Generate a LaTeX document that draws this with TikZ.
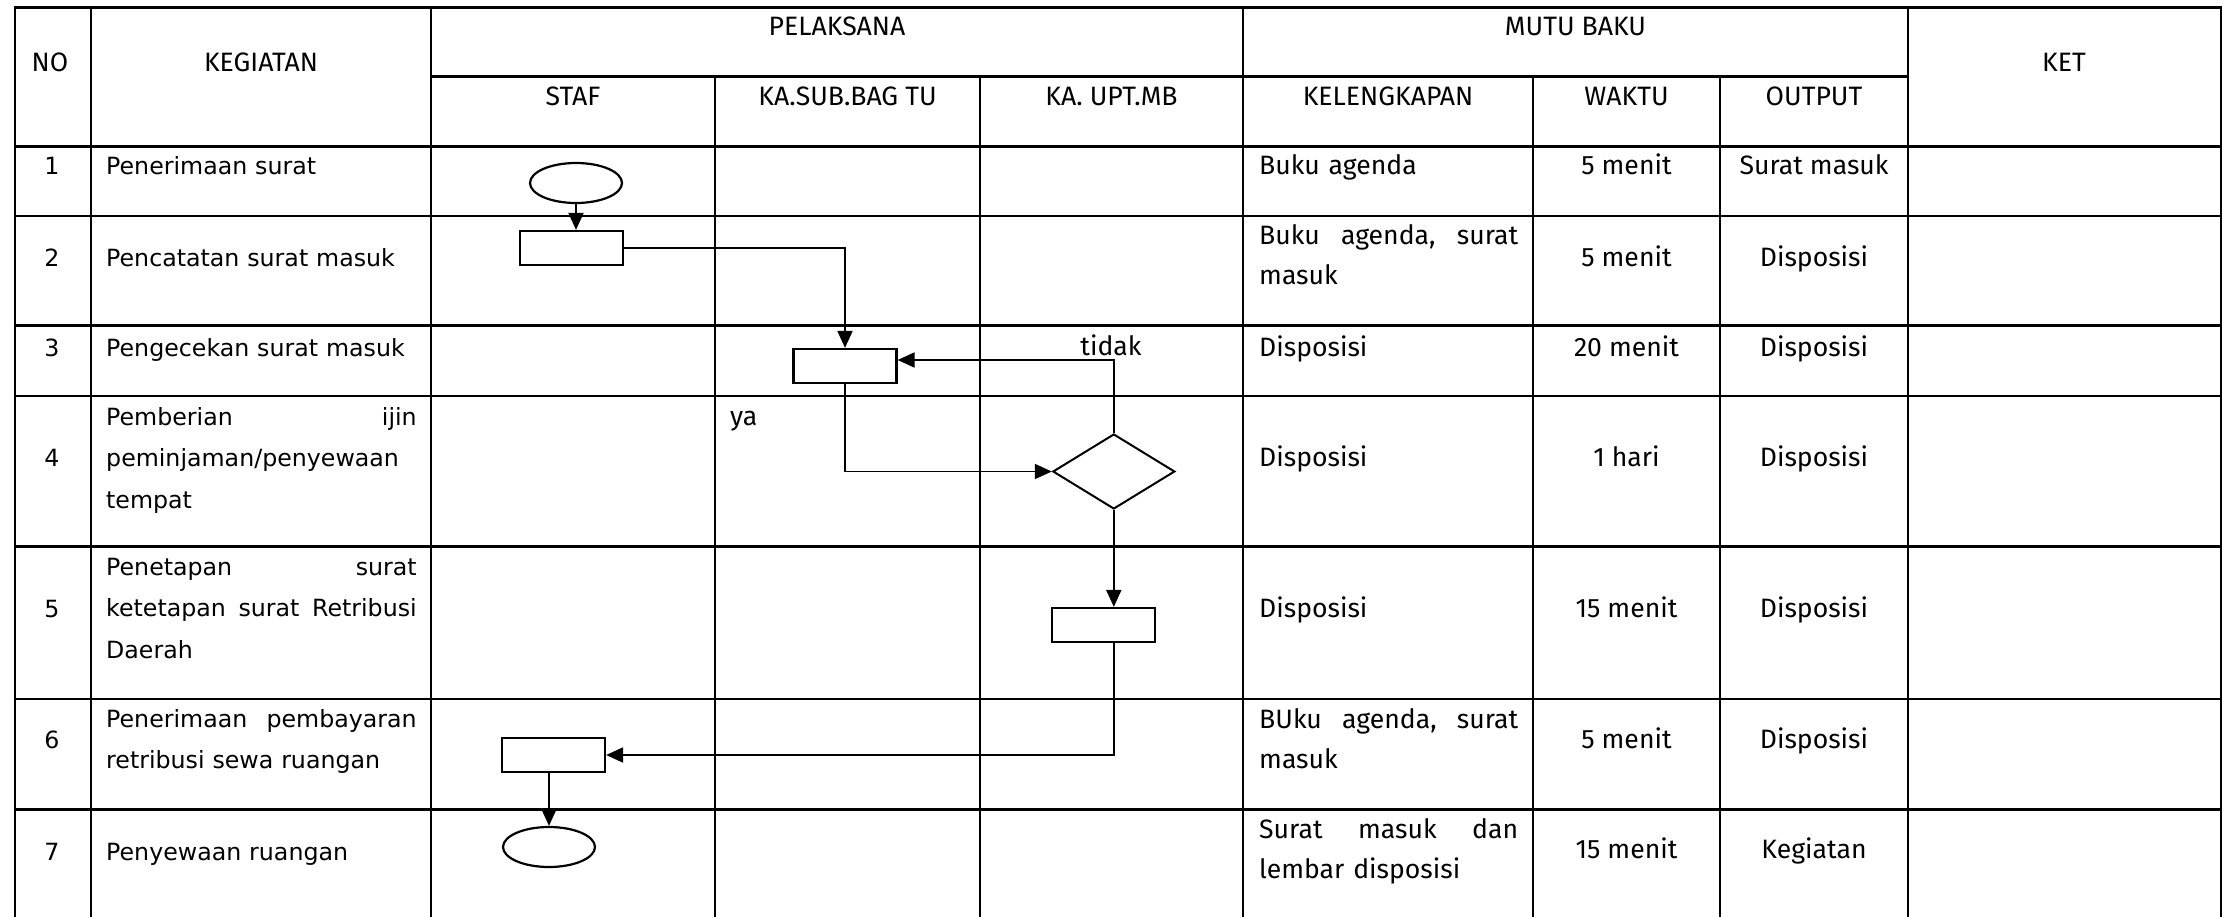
\documentclass[tikz,border=0pt]{standalone}
\usepackage{fontspec}
\setmainfont{DejaVu Sans}
\newfontfamily\lblfont{Fira Sans}
\newfontfamily\actfont{DejaVu Sans}
\usetikzlibrary{shapes.geometric,arrows.meta}

% text faces of the form
\newcommand\hdsize{\lblfont\fontsize{26.6}{40.5}\selectfont}
\newcommand\actsize{\actfont\fontsize{23.7}{41.5}\selectfont}

\begin{document}
\begin{tikzpicture}[x=1pt,y=-1pt,
  rule/.style={line width=2.7pt},
  hd/.style={font=\hdsize, inner sep=0pt, anchor=base},
  hdl/.style={font=\hdsize, inner sep=0pt, anchor=base west, text width=259pt, align=left},
  num/.style={font=\actsize, inner sep=0pt, anchor=base},
  act/.style={font=\actsize, inner sep=0pt, anchor=base west, text width=310.5pt, align=left},
  term/.style={ellipse, draw, line width=2.2pt, minimum width=92pt, minimum height=40pt, inner sep=0pt},
  proc/.style={rectangle, draw, line width=2.2pt, minimum width=103pt, minimum height=34pt, inner sep=0pt},
  decide/.style={diamond, draw, line width=2pt, minimum width=122pt, minimum height=75pt, inner sep=0pt},
  flow/.style={line width=1.9pt, -{Triangle[length=17pt,width=15pt]}}
]
% page
\fill[white] (0,0) rectangle (2223,917);
\useasboundingbox (0,0) rectangle (2223,917);

% table rules
\foreach \yy in {7.5,146.5,216,325.5,396,546.5,699,809.5}
  \draw[rule] (13.7,\yy) -- (2222.3,\yy);
\draw[rule] (431,76.5) -- (1908,76.5);
\foreach \xx in {15,91,431,1243,1908,2221}
  \draw[rule] (\xx,6.2) -- (\xx,917);
\foreach \xx in {715,980,1533,1720}
  \draw[rule] (\xx,76.5) -- (\xx,917);

% header
\node[hd] (hNo)   at (50,72)     {NO};
\node[hd] (hKeg)  at (261,72)    {KEGIATAN};
\node[hd] (hPel)  at (837,36)    {PELAKSANA};
\node[hd] (hMutu) at (1575.5,36) {MUTU BAKU};
\node[hd] (hKet)  at (2064,72)   {KET};
\node[hd] (hStaf) at (573,106)   {STAF};
\node[hd] (hSub)  at (847.5,106) {KA.SUB.BAG TU};
\node[hd] (hUpt)  at (1111.5,106){KA. UPT.MB};
\node[hd] (hKel)  at (1388,106)  {KELENGKAPAN};
\node[hd] (hWkt)  at (1626.5,106){WAKTU};
\node[hd] (hOut)  at (1814,106)  {OUTPUT};

% row 1
\node[num] (n1) at (52,175) {1};
\node[act] (a1) at (106,175) {Penerimaan surat};
\node[hdl] (k1) at (1259,175) {Buku agenda};
\node[hd]  (w1) at (1626.5,175) {5 menit};
\node[hd]  (o1) at (1814,175) {Surat masuk};

% row 2
\node[num] (n2) at (52,266) {2};
\node[act] (a2) at (106,266) {Pencatatan surat masuk};
\node[hdl] (k2) at (1259,244) {Buku\hfill agenda,\hfill surat\\masuk};
\node[hd]  (w2) at (1626.5,266) {5 menit};
\node[hd]  (o2) at (1814,266) {Disposisi};

% row 3
\node[num] (n3) at (52,356) {3};
\node[act] (a3) at (106,356) {Pengecekan surat masuk};
\node[hdl] (k3) at (1259,356) {Disposisi};
\node[hd]  (w3) at (1626.5,356) {20 menit};
\node[hd]  (o3) at (1814,356) {Disposisi};

% row 4
\node[num] (n4) at (52,466) {4};
\node[act] (a4) at (106,425) {Pemberian\hfill ijin\\peminjaman/penyewaan\\tempat};
\node[hdl] (k4) at (1259,466) {Disposisi};
\node[hd]  (w4) at (1626.5,466) {1 hari};
\node[hd]  (o4) at (1814,466) {Disposisi};

% row 5
\node[num] (n5) at (52,617) {5};
\node[act] (a5) at (106,575) {Penetapan\hfill surat\\ketetapan\hfill surat\hfill Retribusi\\Daerah};
\node[hdl] (k5) at (1259,617) {Disposisi};
\node[hd]  (w5) at (1626.5,617) {15 menit};
\node[hd]  (o5) at (1814,617) {Disposisi};

% row 6
\node[num] (n6) at (52,748) {6};
\node[act] (a6) at (106,727) {Penerimaan\hfill pembayaran\\retribusi sewa ruangan};
\node[hdl] (k6) at (1259,728) {BUku\hfill agenda,\hfill surat\\masuk};
\node[hd]  (w6) at (1626.5,748) {5 menit};
\node[hd]  (o6) at (1814,748) {Disposisi};

% row 7
\node[num] (n7) at (52,860) {7};
\node[act] (a7) at (106,860) {Penyewaan ruangan};
\node[hdl] (k7) at (1259,838) {Surat\hfill masuk\hfill dan\\lembar disposisi};
\node[hd]  (w7) at (1626.5,858) {15 menit};
\node[hd]  (o7) at (1814,858) {Kegiatan};

% flow symbols
\node[term]   (s1) at (576,183)    {};
\node[proc]   (p1) at (571.5,248)  {};
\node[proc]   (p2) at (845,366)    {};
\node[decide] (d1) at (1113.8,471.5) {};
\node[proc]   (p3) at (1103.5,625) {};
\node[proc]   (p4) at (553.5,755)  {};
\node[term]   (s2) at (549,847)    {};

% branch labels
\node[hd] (lYa)    at (730,425) [anchor=base west] {ya};
\node[hd] (lTidak) at (1111,355) {tidak};

% connectors
\draw[flow] (s1.south) -- (s1.south |- p1.north);
\draw[flow] (p1.east) -| (p2.north);
\draw[flow] (p2.south) |- (d1.west);
\draw[flow] (d1.north) |- ([yshift=6pt]p2.east);
\draw[flow] (d1.south) -- (d1.south |- p3.north);
\draw[flow] (d1.south |- p3.south) |- (p4.east);
\draw[flow] (s2.north |- p4.south) -- (s2.north);
\end{tikzpicture}
\end{document}
